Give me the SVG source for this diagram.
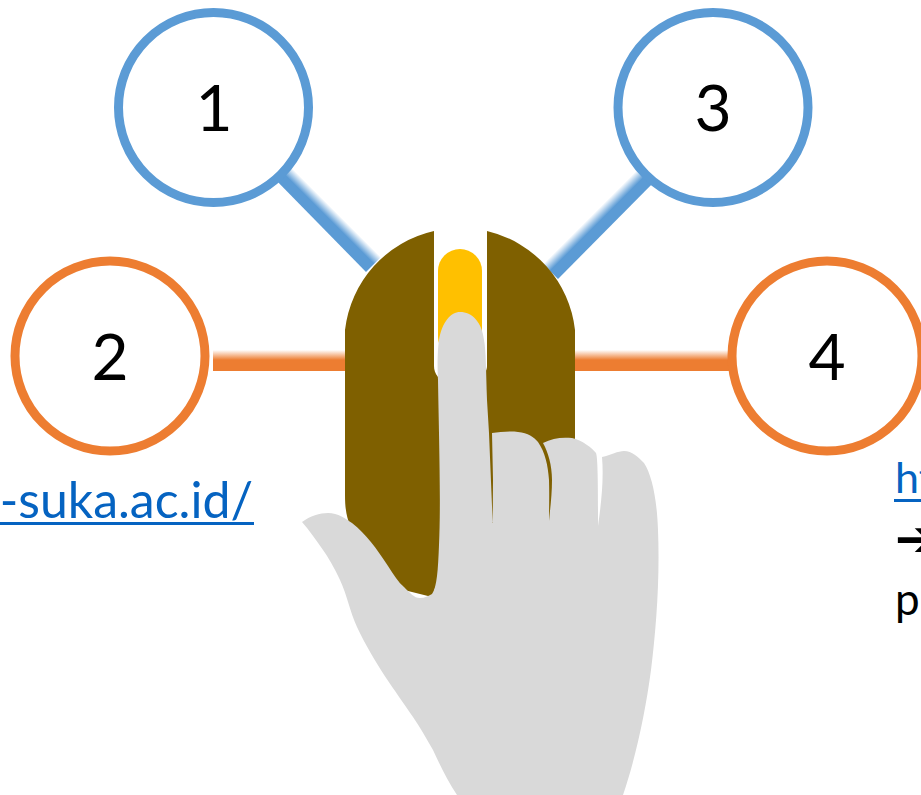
<svg xmlns="http://www.w3.org/2000/svg" width="921" height="795" viewBox="0 0 921 795">
<style>
text{font-family:"Lato","Open Sans",sans-serif}
.n{font-size:64px;fill:#000;text-anchor:middle}
.b{fill:#fff;stroke:#5B9BD5;stroke-width:9}
.o{fill:#fff;stroke:#ED7D31;stroke-width:9}
.l{fill:#0563C1}
</style>
<defs>
<linearGradient id="go" gradientUnits="userSpaceOnUse" x1="0" y1="350" x2="0" y2="360"><stop offset="0" stop-color="#ED7D31" stop-opacity="0"/><stop offset="1" stop-color="#ED7D31"/></linearGradient>
<linearGradient id="gb1" gradientUnits="userSpaceOnUse" x1="381" y1="257" x2="374" y2="264"><stop offset="0" stop-color="#5B9BD5" stop-opacity="0"/><stop offset="1" stop-color="#5B9BD5"/></linearGradient>
<linearGradient id="gb2" gradientUnits="userSpaceOnUse" x1="543" y1="264" x2="550" y2="271"><stop offset="0" stop-color="#5B9BD5" stop-opacity="0"/><stop offset="1" stop-color="#5B9BD5"/></linearGradient>
</defs>
<g id="connectors">
<polygon points="270,174 285,159 381,257 366,272" fill="url(#gb1)"/>
<polygon points="645,161 660,176 558,279 543,264" fill="url(#gb2)"/>
<rect x="213" y="350" width="140" height="21" fill="url(#go)"/>
<rect x="570" y="350" width="165" height="21" fill="url(#go)"/>
</g>
<g id="node-1"><circle class="b" cx="213.500" cy="107.500" r="95"/><text class="n" x="214" y="131">1</text></g>
<g id="node-3"><circle class="b" cx="713" cy="107.500" r="95"/><text class="n" x="713" y="131">3</text></g>
<g id="node-2"><circle class="o" cx="110" cy="356" r="95"/><text class="n" x="110" y="380">2</text></g>
<g id="node-4"><circle class="o" cx="827" cy="356" r="95"/><text class="n" x="827" y="380">4</text></g>
<g id="link-left"><text class="l" x="253" y="518" font-size="50" text-anchor="end">-suka.ac.id/</text><rect x="0" y="522" width="254" height="3" fill="#0563C1"/></g>
<g id="link-right"><text class="l" x="895" y="493" font-size="43">ht</text><rect x="894" y="499" width="27" height="3" fill="#0563C1"/>
<text x="895" y="556" font-size="50" style="font-family:'DejaVu Sans',sans-serif">➔</text>
<text x="895" y="615" font-size="44">p</text></g>
<g id="mouse">
<path fill="#7F6000" d="M434 231A115 115 0 0 0 345 330V495C345 510 347 518 350 525L404 590L432 597L445 560V378L438 377C435 373 434 370 434 366Z"/>
<path fill="#7F6000" d="M487 231A115 115 0 0 1 575 330V560H480V378C485 374 487 370 487 366Z"/>
<rect x="438" y="249" width="44" height="110" rx="22" fill="#FFC000"/>
</g>
<g id="hand">
<path fill="#D9D9D9" d="M302 522C310 516 320 513 328 513C338 513 346 519 352 523C366 534 377 549 388 566C394 575 398 582 404 587C410 593 414 598 420 598C425 598 428 596 432 594C437 587 438 570 439 545C441 500 439 440 438 380C437 365 438 345 439 340C442 322 451 312 460 312C472 312 482 322 484 340C486 350 486 370 487 400L489 433L492.700 523L493 480L492 433C500 432 510 431 518 432C528 433 534 437 538 442C545 452 548 465 549 480C549.500 495 549 510 549 521C550 510 552 495 552 480C552 465 548 452 543 443C552 438 562 437 572 438C582 440 592 448 596 453C598 458 598 490 598 526C601 505 604 480 602 457C611 455 618 451 624 451C632 451 638 457 644 463C652 475 657 500 658 530C660 580 656 630 651 670C645 715 635 760 623 795H457C447 780 440 765 433 750C426 738 420 727 413 717C395 690 375 665 357 627C350 612 347 595 340 580C334 567 328 557 323 550C316 540 309 530 302 522Z"/>
</g>
</svg>
